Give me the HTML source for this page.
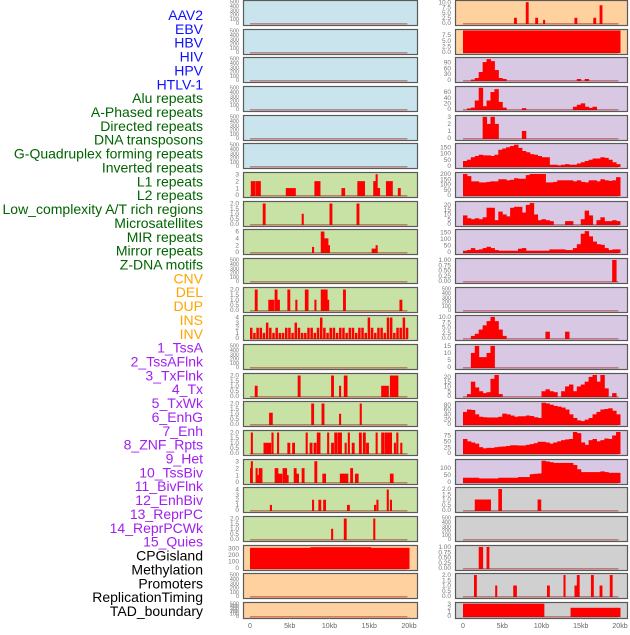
<!DOCTYPE html>
<html><head><meta charset="utf-8"><style>
body{margin:0;background:#fff;width:630px;height:630px;overflow:hidden}
svg text{font-family:"Liberation Sans",sans-serif}
</style></head><body>
<svg id="chart" width="630" height="630" xmlns="http://www.w3.org/2000/svg"></svg>
<script>
// ---------- data ----------
const trackLabels=["AAV2","EBV","HBV","HIV","HPV","HTLV-1","Alu repeats","A-Phased repeats","Directed repeats","DNA transposons","G-Quadruplex forming repeats","Inverted repeats","L1 repeats","L2 repeats","Low_complexity A/T rich regions","Microsatellites","MIR repeats","Mirror repeats","Z-DNA motifs","CNV","DEL","DUP","INS","INV","1_TssA","2_TssAFlnk","3_TxFlnk","4_Tx","5_TxWk","6_EnhG","7_Enh","8_ZNF_Rpts","9_Het","10_TssBiv","11_BivFlnk","12_EnhBiv","13_ReprPC","14_ReprPCWk","15_Quies","CPGisland","Methylation","Promoters","ReplicationTiming","TAD_boundary"];
const labelGroups=[6,13,5,15,5];
const groupColors=["#1010ff","#006400","#ffa500","#a020f0","#000000"];
const xTickLabels=["0","5kb","10kb","15kb","20kb"];
const xTickValues=[0,5,10,15,20];
const bgLeft=["blue","blue","blue","blue","blue","blue","green","green","green","green","green","green","green","green","green","green","green","green","green","peach","peach","peach"];
const bgRight=["peach","peach","lav","lav","lav","lav","lav","lav","lav","lav","lav","lav","lav","lav","lav","lav","lav","gray","gray","gray","gray","gray"];
const emptyTicks=[0,100,200,300,400,500];

// col2 profiles (40 bins of 0.5kb)
const hivVals=[0,0,2,10,40,90,105,95,50,10,5,0,0,0,0,0,0,0,0,0,0,0,0,0,0,0,0,0,0,5,0,5,0,0,0,0,0,0,0,0];
const hpvVals=[0,2,5,30,75,10,30,60,70,25,5,0,0,0,0,3,0,0,0,0,0,0,0,0,0,0,0,0,8,15,20,8,4,8,0,0,0,0,0,0];
const htlvVals=[0,0,0,0,0,3,2,3,2,0,0,0,0,0,0,1,0,0,0,0,0,0,0,0,0,0,0,0,0,0,0,0,0,0,0,0,0,0,0,0];
const aluVals=[40,50,70,80,90,85,85,80,90,130,140,150,160,170,145,120,110,95,90,80,70,70,10,10,5,10,15,10,10,20,30,40,50,60,60,70,65,50,30,15];
const invRepVals=[200,180,130,130,120,120,125,130,130,150,150,140,145,160,155,155,190,200,200,200,200,120,120,125,140,140,140,140,130,140,125,120,140,140,130,150,140,135,140,170];
const lowCompVals=[9,6,5,6,5,7,17,17,4,13,10,8,17,18,18,12,20,22,10,4,5,4,3,0,0,0,3,3,0,0,5,14,9,0,4,7,3,3,4,3];
const mirVals=[10,15,30,15,20,30,40,30,15,10,10,10,10,10,25,30,10,10,10,10,10,10,20,20,20,20,15,15,30,60,140,160,120,80,60,55,30,15,20,20];
const zdnaVals=[0,0,0,0,0,0,0,0,0,0,0,0,0,0,0,0,0,0,0,0,0,0,0,0,0,0,0,0,0,0,0,0,0,0,0,0,0,0,1,0];
const insVals=[0,0,1,2,4,6,8,10,8,4,1,0,0,0,0,0,0,0,0,0,0,3,0,0,0,0,3,0,0,0,0,0,0,0,0,0,0,0,0,0];
const tssaVals=[0,0,10,15,7,7,10,15,0,0,0,0,0,0,0,0,0,0,0,0,0,0,0,0,0,0,0,0,0,0,0,0,0,0,0,0,0,0,0,0];
const txflnkVals=[0,2,15,9,5,3,4,18,22,2,0,0,0,0,0,0,0,0,0,0,5,7,5,4,0,5,10,12,5,10,12,15,20,22,15,22,8,0,3,0];
const enhgVals=[50,60,58,40,30,28,27,27,27,30,43,40,35,30,32,32,35,33,28,25,88,85,80,75,72,68,60,40,25,15,12,18,25,40,50,60,62,65,55,40];
const enhVals=[60,50,45,40,25,20,22,22,25,27,28,30,33,33,32,32,35,38,42,48,48,45,40,45,50,55,58,60,90,85,45,35,55,60,50,55,62,60,75,90];
const znfVals=[30,30,30,30,25,25,25,25,25,30,30,30,30,30,35,35,35,55,58,60,150,145,140,135,135,135,135,135,120,90,70,70,70,70,70,75,70,65,65,65];

// sparse bars: start kb, end kb, value
const aav2S=[6.5,8.0,9.2,10.2,14.2,16.6,17.4], aav2E=[6.8,8.3,9.5,10.4,14.5,16.9,17.7], aav2V=[2.5,10,2.5,1.5,2.5,2.5,8.5];
const ebvS=[0], ebvE=[20], ebvV=[9.5];
const bivS=[1.5,4.5,9.5], bivE=[3.5,4.9,9.9], bivV=[1,2,1];
const cpgRS=[2.0,3.0], cpgRE=[2.5,3.3], cpgRV=[1,1];
const promS=[1.4,4.1,6.4,10.7,12.8,14.2,14.5,16.3,17.4,18.7], promE=[1.7,4.3,6.8,11.0,13.0,14.5,14.8,16.6,17.7,19.0], promV=[2,1,1,1,2,1,2,2,1,2];
const tadS=[0,13.7], tadE=[10.3,20], tadV=[3,2];
const l1S=[0.1,0.7,4.5,8.1,11.5,13.5,15.5,15.8,16.0,17.1,18.6], l1E=[0.6,1.3,5.7,8.8,11.9,14.4,15.8,16.0,16.3,17.9,18.9], l1V=[2,2,1,2,1,2,2,3,1,2,1];
const l2S=[1.6,6.5,10.0,13.4], l2E=[1.9,6.7,10.3,13.7], l2V=[2,1,2,2];
const lowS=[7.8,8.9,9.3,9.8,15.3,15.8], lowE=[8.0,9.3,9.8,10.0,15.8,16.0], lowV=[1.5,6,4,2,1,2];
const microS=[0.6,2.3,3.1,3.4,4.7,5.7,6.9,8.1,8.9,9.7,11.7,18.8], microE=[0.9,3.0,3.4,3.7,5.0,5.9,7.3,8.3,9.7,9.9,12.0,19.1], microV=[2,1,2,1,2,1,2,1,2,1,2,1];
const insBarS=[0.0,0.4,0.8,1.2,1.6,2.0,2.4,2.8,3.2,3.6,4.0,4.4,4.8,5.2,5.6,6.0,6.4,6.8,7.2,7.6,8.0,8.4,8.8,9.2,9.6,10.0,10.4,10.8,11.2,11.6,12.0,12.4,12.8,13.2,13.6,14.0,14.4,14.8,15.2,15.6,16.0,16.4,16.8,17.2,17.6,18.0,18.4,18.8,19.2,19.6];
const insBarV=[2,1,2,2,1,3,2,1,2,1,1,2,2,1,3,2,1,1,2,2,1,2,4,2,1,2,2,1,2,2,1,2,2,1,2,2,1,4,2,1,2,2,1,4,4,1,2,2,4,2];
const txS=[0.6,6.0,10.2,11.2,11.8,16.5,17.6], txE=[0.9,6.3,10.5,11.4,12.2,17.4,18.6], txV=[1,2,2,1,2,1,2];
const txwkS=[2.4,7.7,9.0,11.2,13.8], txwkE=[2.8,8.0,9.3,11.4,14.0], txwkV=[1.1,2,2,1,2];
const enhBarS=[0.1,1.7,2.7,3.4,4.7,5.3,7.0,7.5,8.0,8.4,9.7,10.2,10.6,11.0,11.9,12.3,12.8,13.7,14.2,14.6,15.8,16.5,16.9,18.1,18.4,18.9], enhBarE=[0.3,2.6,2.9,3.6,5.0,5.6,7.2,7.8,8.3,8.8,9.9,10.5,10.9,11.5,12.1,12.5,13.1,14.0,14.5,14.9,16.0,16.8,17.8,18.3,18.6,19.1], enhBarV=[2,1,2,2,1,1,2,1,1,2,2,1,2,2,1,2,1,2,2,1,2,2,2,1,2,1];
const znfBarS=[0.0,0.1,0.7,0.9,1.1,3.1,3.5,4.1,4.6,5.5,5.8,6.5,8.1,9.1,11.3,11.8,12.6,13.2,17.6], znfBarE=[0.1,0.3,0.9,1.1,1.5,3.5,4.0,4.6,4.8,5.8,6.1,6.8,8.4,9.5,11.8,12.3,12.9,13.6,18.0], znfBarV=[2,3,2,1,2,2,1.2,2,1,2,1.2,2,3,1.2,1.2,1.2,2,1.2,1.2];
const hetS=[2.5,7.8,8.6,9.2,12.2,15.6,15.9,17.2,17.6], hetE=[2.7,8.0,8.9,9.5,12.5,15.8,16.1,17.4,17.8], hetV=[1,2,2,2,1,1,2,4,2];
const tssbivS=[10.2,11.8,15.5], tssbivE=[10.4,12.1,15.7], tssbivV=[1,2,2];
const cpgS=[0,7.6], cpgE=[20,15.2], cpgV=[310,320];

// ---------- drawing ----------
const NS="http://www.w3.org/2000/svg";
const svg=document.getElementById("chart");
const bgColors={blue:"#c9e4ec",green:"#c8e1a5",peach:"#ffd19f",lav:"#d8c8e3",gray:"#d0d0d0"};
const colX=[{x0:243,x1:417,k0:250,k1:409},{x0:455,x1:627,k0:463,k1:620}];
function rowTop(r){return Math.round(r*28.67);}
function rowH(r){return r===21?16:25;}
function mk(tag,attrs,parent){const e=document.createElementNS(NS,tag);for(const k in attrs)e.setAttribute(k,attrs[k]);(parent||svg).appendChild(e);return e;}
function xScale(c,kb){const C=colX[c];return C.k0+(C.k1-C.k0)*kb/20;}
function fmt(t,ticks){const dec=ticks.some(v=>v%1!==0);if(!dec)return String(t);const two=ticks.some(v=>Math.round(v*100)%10!==0);return t.toFixed(two?2:1);}

function panel(c,r,name,ticks,dmax,S,E,V){
  const top=rowTop(r),h=rowH(r),C=colX[c];
  const bg=(c===0?bgLeft:bgRight)[r];
  const g=mk("g",{});
  
  
  const rect=mk("rect",{x:C.x0+0.5,y:top+0.5,width:C.x1-C.x0,height:h,fill:bgColors[bg],stroke:"#5a5a5a","stroke-width":1.2},g);
  
  
  const y0=top+h-2,y1=top+1.5;
  const yS=v=>y0-(y0-y1)*v/dmax;
  ticks.forEach(t=>{
    const tx=mk("text",{x:C.x0-4,y:yS(t)+2.2,"font-size":ticks.length>5&&dmax>=500?5.5:6.5,fill:"#777","text-anchor":"end"},g);
    tx.textContent=fmt(t,ticks);
    
    
  });
  if(S){
    for(let i=0;i<V.length;i++){
      if(!V[i])continue;
      const xa=xScale(c,S[i]),xb=xScale(c,E[i]);
      const yy=yS(Math.min(V[i],dmax));
      const b=mk("rect",{x:xa,y:yy,width:Math.max(1.2,xb-xa+0.5),height:y0-yy+1,fill:"#ff0000"},g);
      
      
    }
  }
  const bl=mk("rect",{x:xScale(c,0),y:y0,width:xScale(c,19.8)-xScale(c,0),height:1.5,fill:"rgba(160,20,20,0.45)"},g);
  
  
}
function prof(vals){const s=[],e=[];for(let i=0;i<vals.length;i++){s.push(i*0.5);e.push(i*0.5+0.5);}return [s,e,vals];}
// left column
const empty=(c,r,n)=>panel(c,r,n,emptyTicks,500);
for(let r=0;r<6;r++)empty(0,r,"left-row"+r);
panel(0,6,"l1-left",[0,1,2,3],3.1,l1S,l1E,l1V);
panel(0,7,"l2-left",[0,0.5,1,1.5,2],2.1,l2S,l2E,l2V);
panel(0,8,"lowcomp-left",[0,2,4,6],6.3,lowS,lowE,lowV);
empty(0,9,"left-row9");
panel(0,10,"micro-left",[0,0.5,1,1.5,2],2.1,microS,microE,microV);
panel(0,11,"inv-left",[0,1,2,3,4],4.2,insBarS,insBarS.map(v=>v+0.25),insBarV);
empty(0,12,"left-row12");
panel(0,13,"tx-left",[0,0.5,1,1.5,2],2.1,txS,txE,txV);
panel(0,14,"txwk-left",[0,0.5,1,1.5,2],2.1,txwkS,txwkE,txwkV);
panel(0,15,"enh-left",[0,0.5,1,1.5,2],2.1,enhBarS,enhBarE,enhBarV);
panel(0,16,"znf-left",[0,1,2,3],3.1,znfBarS,znfBarE,znfBarV);
panel(0,17,"het-left",[0,1,2,3,4],4.2,hetS,hetE,hetV);
panel(0,18,"tssbiv-left",[0,0.5,1,1.5,2],2.1,tssbivS,tssbivE,tssbivV);
panel(0,19,"cpg-left",[0,100,200,300],330,cpgS,cpgE,cpgV);
empty(0,20,"left-row20");
empty(0,21,"left-row21");
// right column
panel(1,0,"aav2-right",[0,2.5,5,7.5,10],10.3,aav2S,aav2E,aav2V);
panel(1,1,"ebv-right",[0,2.5,5,7.5],9.5,ebvS,ebvE,ebvV);
panel(1,2,"hiv-right",[0,30,60,90],108,...prof(hivVals));
panel(1,3,"hpv-right",[0,20,40,60],76,...prof(hpvVals));
panel(1,4,"htlv-right",[0,1,2,3],3.05,...prof(htlvVals));
panel(1,5,"alu-right",[0,50,100,150],172,...prof(aluVals));
panel(1,6,"invrep-right",[0,50,100,150,200],205,...prof(invRepVals));
panel(1,7,"lowcomp-right",[0,5,10,15,20],22.5,...prof(lowCompVals));
panel(1,8,"mir-right",[0,50,100,150],165,...prof(mirVals));
panel(1,9,"zdna-right",[0,0.25,0.5,0.75,1],1.02,...prof(zdnaVals));
empty(1,10,"right-row10");
panel(1,11,"ins-right",[0,2.5,5,7.5,10],10.2,...prof(insVals));
panel(1,12,"tssa-right",[0,5,10,15],15.3,...prof(tssaVals));
panel(1,13,"txflnk-right",[0,5,10,15,20],22.5,...prof(txflnkVals));
panel(1,14,"enhg-right",[0,20,40,60,80],89,...prof(enhgVals));
panel(1,15,"enh-right",[0,25,50,75],92,...prof(enhVals));
panel(1,16,"znf-right",[0,50,100],152,...prof(znfVals));
panel(1,17,"bivflnk-right",[0,0.5,1,1.5,2],2.05,bivS,bivE,bivV);
empty(1,18,"right-row18");
panel(1,19,"cpg-right",[0,0.25,0.5,0.75,1],1.02,cpgRS,cpgRE,cpgRV);
panel(1,20,"promoters-right",[0,0.5,1,1.5,2],2.05,promS,promE,promV);
panel(1,21,"tad-right",[0,1,2,3],3.05,tadS,tadE,tadV);

// x axis ticks
[0,1].forEach(c=>{
  xTickValues.forEach((v,i)=>{
    const x=xScale(c,v);
    mk("line",{x1:x,x2:x,y1:617,y2:619,stroke:"#888","stroke-width":0.7});
    const t=mk("text",{x:x,y:628,"font-size":7,fill:"#666","text-anchor":"middle"});
    t.textContent=xTickLabels[i];
    
    
  });
});
// labels
let gi=0,cnt=0;
trackLabels.forEach((lab,i)=>{
  if(cnt>=labelGroups[gi]){gi++;cnt=0;}
  cnt++;
  const t=mk("text",{x:203,y:15+i*13.86+5,"font-size":14,fill:groupColors[gi],"text-anchor":"end"});
  t.textContent=lab;
  
  
});
</script>
</body></html>
